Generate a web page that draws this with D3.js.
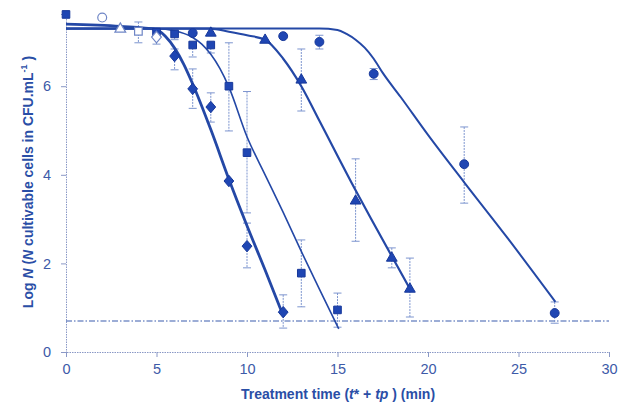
<!DOCTYPE html>
<html><head><meta charset="utf-8">
<script src="https://cdn.jsdelivr.net/npm/d3@7"></script>
<style>body{margin:0;background:#fff}svg{display:block}</style>
</head><body>
<script>
// ---------- data ----------
const xTicks = [0,5,10,15,20,25,30];
const yTicks = [0,2,4,6];
const detectionLimit = 0.7;

// markers: [t, logN, errHigh, errLow]
const diamonds = [[6,6.68,6.84,6.37],[7,5.94,6.39,5.5],[8,5.53,5.85,5.19],[9,3.86,null,null],[10,2.39,2.91,1.9],[12,0.9,1.29,0.54]];
const squares = [[0,7.62,null,null],[5,7.22,null,null],[6,7.18,null,7.05],[7,6.93,null,6.66],[8,6.93,null,6.75],[9,6.0,6.98,4.99],[10,4.5,5.88,3.14],[13,1.78,2.53,1.02],[15,0.95,1.33,0.56]];
const triangles = [[8,7.2,null,null],[11,7.04,null,null],[13,6.14,6.84,5.44],[16,3.41,4.36,2.5],[18,2.12,2.35,1.9],[19,1.42,2.12,0.79]];
const circles = [[7,7.2,null,null],[12,7.13,null,null],[14,7.0,7.15,6.84],[17,6.28,6.4,6.15],[22,4.24,5.08,3.36],[27,0.88,1.13,0.65]];
const openCircle = [[2,7.55,null,null]];
const openTriangle = [[3,7.29,null,null]];
const openSquare = [[4,7.24,7.45,6.98]];
const openDiamond = [[5,7.11,null,6.95]];

// fitted curves: [t, logN]
const curveDiamond = [[0,7.4],[3,7.35],[5,7.28],[5.5,7.12],[6,6.86],[6.5,6.5],[7,6.05],[8,5.02],[9,3.9],[10,2.85],[11,1.85],[12.02,0.8]];
const curveSquare = [[0,7.3],[5,7.3],[6,7.25],[7,7.1],[7.5,6.95],[8,6.72],[8.5,6.4],[9,5.98],[10,4.86],[11,4.0],[12,3.15],[13,2.27],[14,1.42],[15.07,0.52]];
const curveTriangle = [[0,7.3],[8,7.3],[9,7.23],[10,7.15],[11,7.05],[12,6.62],[13,6.0],[14,5.22],[16,3.65],[17,2.9],[19.06,1.38]];
const curveCircle = [[0,7.3],[14,7.3],[15,7.27],[15.5,7.18],[16,7.05],[16.5,6.87],[17,6.62],[17.5,6.3],[18.5,5.75],[20,4.9],[22,3.83],[24.4,2.57],[27.04,1.13]];

// ---------- drawing ----------
const W = 619, H = 405;
const blue = "#2a4ea6", markFill = "#1f46b3", markStroke = "#17389a", lineCol = "#2448a6", errCol = "#7d95cf";
const svg = d3.select("body").append("svg").attr("width", W).attr("height", H);
const x = d3.scaleLinear().domain([0,30]).range([66,609]);
const y = d3.scaleLinear().domain([0,7.63]).range([352,14]);

// axes
const xAxis = svg.append("g").attr("transform", `translate(0,${y(0)})`)
  .call(d3.axisBottom(x).tickValues(xTicks).tickSize(5).tickPadding(7));
const yAxis = svg.append("g").attr("transform", `translate(${x(0)},0)`)
  .call(d3.axisLeft(y).tickValues(yTicks).tickSize(5).tickPadding(10));
[xAxis,yAxis].forEach(g=>{
  g.select(".domain").attr("stroke","#8a98c6").attr("stroke-dasharray","1.5,1");
  g.selectAll(".tick line").attr("stroke","#8a98c6");
  g.selectAll(".tick text").attr("fill","#3d5aa8").attr("font-family","'Liberation Sans', Arial, sans-serif").attr("font-size",14.5);
});

// detection limit
svg.append("line").attr("x1",x(0)).attr("x2",x(30)).attr("y1",y(detectionLimit)).attr("y2",y(detectionLimit))
  .attr("stroke","#3b5cae").attr("stroke-width",1.2).attr("stroke-dasharray","6,2,1.5,2");

// error bars
function errBars(data){
  data.forEach(d=>{
    const [t,v,hi,lo] = d;
    const top = hi==null? v : hi, bot = lo==null? v : lo;
    if (hi==null && lo==null) return;
    svg.append("line").attr("x1",x(t)).attr("x2",x(t)).attr("y1",y(top)).attr("y2",y(bot))
      .attr("stroke",errCol).attr("stroke-width",1).attr("stroke-dasharray","2,1");
    [hi,lo].forEach(b=>{ if(b!=null) svg.append("line").attr("x1",x(t)-4).attr("x2",x(t)+4).attr("y1",y(b)).attr("y2",y(b)).attr("stroke",errCol).attr("stroke-width",1); });
  });
}
[diamonds,squares,triangles,circles,openSquare,openDiamond].forEach(errBars);

// curves
const line = d3.line().x(d=>x(d[0])).y(d=>y(d[1])).curve(d3.curveMonotoneX);
svg.append("path").datum(curveCircle).attr("d",line).attr("fill","none").attr("stroke",lineCol).attr("stroke-width",2);
svg.append("path").datum(curveTriangle).attr("d",line).attr("fill","none").attr("stroke",lineCol).attr("stroke-width",2.2);
svg.append("path").datum(curveSquare).attr("d",line).attr("fill","none").attr("stroke",lineCol).attr("stroke-width",1.6);
svg.append("path").datum(curveDiamond).attr("d",line).attr("fill","none").attr("stroke",lineCol).attr("stroke-width",2.8);

// markers
function marks(data, type, size, filled){
  const sym = d3.symbol().type(type).size(size);
  svg.append("g").selectAll("path").data(data).join("path")
    .attr("d",sym).attr("transform",d=>`translate(${x(d[0])},${y(d[1])})`)
    .attr("fill",filled?markFill:"#fff").attr("stroke",filled?markStroke:"#6f86c6").attr("stroke-width",filled?1:1.2);
}
const diamondShape = {draw(ctx,size){const r=Math.sqrt(size)/1.35; ctx.moveTo(0,-r);ctx.lineTo(r*0.85,0);ctx.lineTo(0,r);ctx.lineTo(-r*0.85,0);ctx.closePath();}};
marks(diamonds, diamondShape, 60, true);
marks(squares, d3.symbolSquare, 58, true);
marks(triangles, d3.symbolTriangle, 50, true);
marks(circles, d3.symbolCircle, 62, true);
marks(openCircle, d3.symbolCircle, 62, false);
marks(openTriangle, d3.symbolTriangle, 50, false);
marks(openSquare, d3.symbolSquare, 58, false);
marks(openDiamond, diamondShape, 60, false);

// titles
const xt = svg.append("text").attr("x",338).attr("y",399).attr("text-anchor","middle")
  .attr("fill",blue).attr("font-family","'Liberation Sans', Arial, sans-serif").attr("font-size",14).attr("font-weight","bold");
xt.append("tspan").text("Treatment time (");
xt.append("tspan").attr("font-style","italic").text("t");
xt.append("tspan").text("* + ");
xt.append("tspan").attr("font-style","italic").text("tp");
xt.append("tspan").text(" ) (min)");

const yt = svg.append("text").attr("transform","translate(33,182) rotate(-90)").attr("text-anchor","middle")
  .attr("fill",blue).attr("font-family","'Liberation Sans', Arial, sans-serif").attr("font-size",14).attr("font-weight","bold");
yt.append("tspan").text("Log ");
yt.append("tspan").attr("font-style","italic").text("N");
yt.append("tspan").text(" (");
yt.append("tspan").attr("font-style","italic").text("N");
yt.append("tspan").text(" cultivable cells in CFU.mL");
yt.append("tspan").attr("font-size",9).attr("dy",-6).text("-1");
yt.append("tspan").attr("dy",6).text(" )");
</script>
</body></html>
